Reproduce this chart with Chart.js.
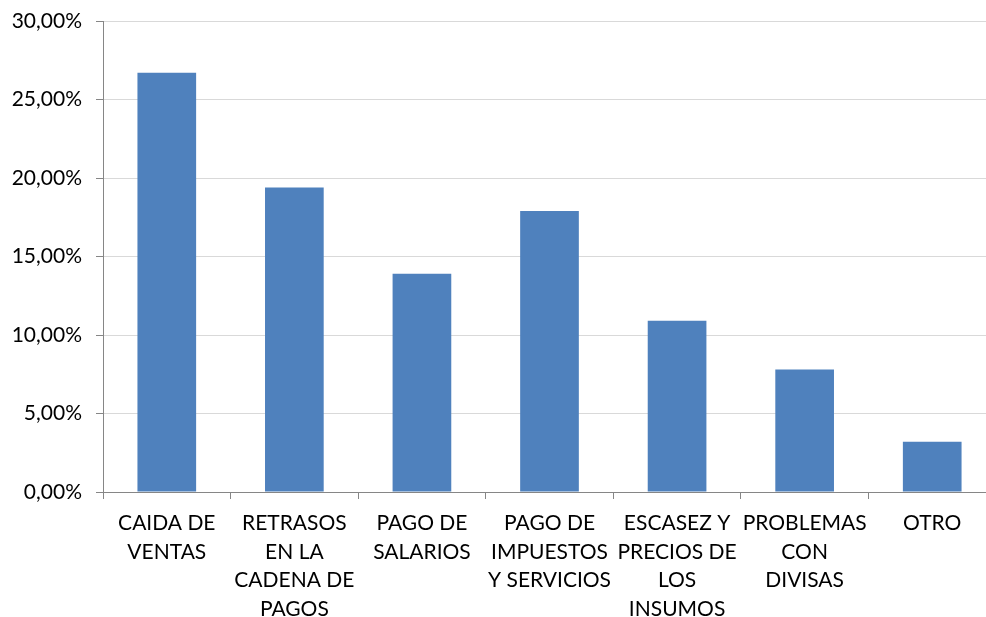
<!DOCTYPE html>
<html><head><meta charset="utf-8">
<script src="https://cdn.jsdelivr.net/npm/chart.js@4/dist/chart.umd.min.js"></script>
<style>html,body{margin:0;padding:0;background:#fff;overflow:hidden;width:986px;height:617px}canvas{display:block}</style>
</head><body>
<canvas id="c" width="1000" height="617" style="width:1000px;height:617px"></canvas>
<script>
const categories = [
  ["CAIDA DE","VENTAS"],
  ["RETRASOS","EN LA","CADENA DE","PAGOS"],
  ["PAGO DE","SALARIOS"],
  ["PAGO DE","IMPUESTOS","Y SERVICIOS"],
  ["ESCASEZ Y","PRECIOS DE","LOS","INSUMOS"],
  ["PROBLEMAS","CON","DIVISAS"],
  ["OTRO"]
];
const values = [26.7, 19.4, 13.9, 17.9, 10.9, 7.8, 3.2];
const yTicks = [0, 5, 10, 15, 20, 25, 30];

const font = {family: "Lato, 'Open Sans', sans-serif", size: 21, lineHeight: 1.36};
new Chart(document.getElementById('c'), {
  type: 'bar',
  data: {labels: categories, datasets: [{data: values, backgroundColor: '#4f81bd', borderWidth: 0,
    categoryPercentage: 1, barPercentage: 0.46}]},
  options: {
    responsive: false, animation: false,
    layout: {padding: {top: 21, right: 4, left: 0, bottom: 0}},
    plugins: {legend: {display: false}, tooltip: {enabled: false}},
    scales: {
      x: {
        grid: {display: true, offset: true, drawOnChartArea: false, drawTicks: true, tickLength: 7, color: '#868686'},
        border: {display: true, color: '#868686', width: 1},
        ticks: {color: '#000', font: font, padding: 10, maxRotation: 0, autoSkip: false},
        afterFit: s => { s.height = 125; s.paddingLeft = 0; s.paddingRight = 0; }
      },
      y: {
        min: 0, max: 30,
        afterBuildTicks: s => { s.ticks = yTicks.map(v => ({value: v})); },
        grid: {color: '#d9d9d9', tickLength: 7, tickColor: '#868686'},
        border: {display: true, color: '#868686', width: 1},
        ticks: {color: '#000', font: {family: font.family, size: 21}, padding: 14,
          callback: v => v.toFixed(2).replace('.', ',') + '%'},
        afterFit: s => { s.width = 103; s.paddingTop = 0; s.paddingBottom = 0; }
      }
    }
  }
});
</script>
</body></html>
